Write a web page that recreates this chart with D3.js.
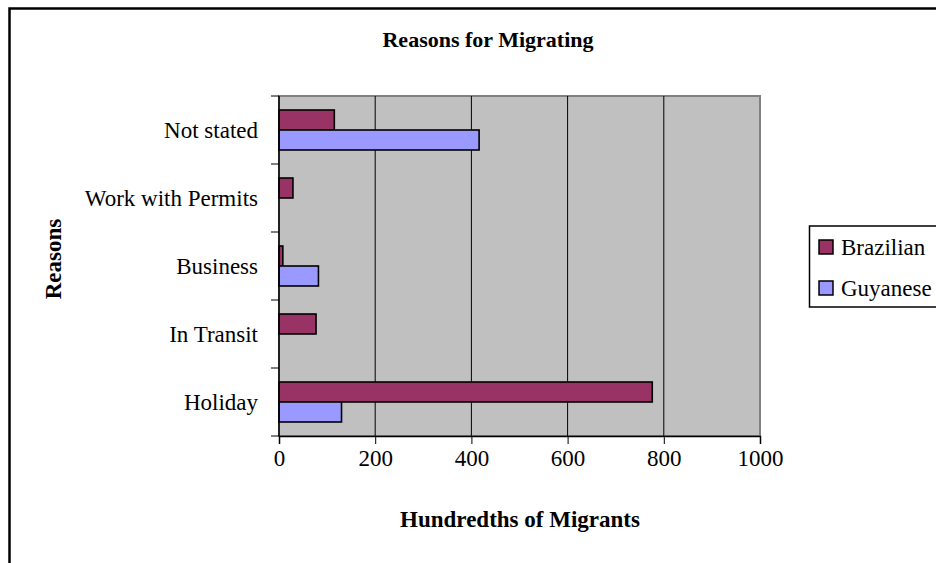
<!DOCTYPE html>
<html>
<head>
<meta charset="utf-8">
<script src="https://cdn.jsdelivr.net/npm/d3@7"></script>
<style>
  body { margin: 0; background: #fff; }
  text { font-family: "Times New Roman", "Liberation Serif", serif; }
</style>
</head>
<body>
<svg id="chart" width="936" height="563"></svg>
<script>
// categories, top to bottom as drawn
const reasons = ['Not stated', 'Work with Permits', 'Business', 'In Transit', 'Holiday']
const seriesNames = ['Brazilian', 'Guyanese']
const brazilian = [115, 29, 8, 77, 776]
const guyanese = [416, 0, 82, 0, 130]
const xTicks = [0, 200, 400, 600, 800, 1000]

const colors = {Brazilian: '#993366', Guyanese: '#9999ff'}

const svg = d3.select('#chart')

// outer frame (runs off the right and bottom edges)
svg.append('path')
    .attr('d', 'M9.5,960 L9.5,8.5 L960,8.5')
    .attr('fill', 'none')
    .attr('stroke', '#000')
    .attr('stroke-width', 2.5)

const plot = {left: 279, right: 760, top: 96, bottom: 436}

const x = d3.scaleLinear().domain([0, 1000]).range([plot.left, plot.right])
const y = d3.scaleBand().domain(reasons).range([plot.top, plot.bottom])
const ySub = d3.scaleBand().domain(seriesNames).range([0, y.bandwidth()])
    .paddingInner(0).paddingOuter(0.7)

// plot background
svg.append('rect')
    .attr('x', plot.left).attr('y', plot.top)
    .attr('width', plot.right - plot.left).attr('height', plot.bottom - plot.top)
    .attr('fill', '#c0c0c0')
    .attr('stroke', '#808080')
    .attr('stroke-width', 2)

// gridlines
svg.append('g')
  .selectAll('line')
  .data(xTicks.slice(1, -1))
  .enter().append('line')
    .attr('x1', d => x(d)).attr('x2', d => x(d))
    .attr('y1', plot.top).attr('y2', plot.bottom)
    .attr('stroke', '#000')
    .attr('stroke-width', 1)

// bars
const rows = reasons.map((r, i) => ({reason: r, Brazilian: brazilian[i], Guyanese: guyanese[i]}))
const barData = []
rows.forEach(row => {
    seriesNames.forEach(s => {
        if (row[s] > 0) barData.push({reason: row.reason, series: s, value: row[s]})
    })
})

svg.append('g')
  .selectAll('rect')
  .data(barData)
  .enter().append('rect')
    .attr('x', x(0))
    .attr('y', d => y(d.reason) + ySub(d.series))
    .attr('width', d => x(d.value) - x(0))
    .attr('height', ySub.bandwidth())
    .attr('fill', d => colors[d.series])
    .attr('stroke', '#000')
    .attr('stroke-width', 1.6)

// axes
const xAxis = svg.append('g')
    .attr('transform', `translate(0,${plot.bottom})`)
    .call(d3.axisBottom(x).tickValues(xTicks).tickSize(8).tickPadding(6).tickFormat(d3.format('d')))
xAxis.select('.domain').attr('stroke', '#000').attr('stroke-width', 1.5)
xAxis.selectAll('.tick line').attr('stroke', '#000')
xAxis.selectAll('.tick text')
    .attr('font-size', 23)
    .attr('fill', '#000')
    .attr('font-family', '"Times New Roman", "Liberation Serif", serif')

// y axis ticks at band boundaries
const yBounds = reasons.map(r => y(r)).concat([plot.bottom])
svg.append('line')
    .attr('x1', plot.left).attr('x2', plot.left)
    .attr('y1', plot.top).attr('y2', plot.bottom)
    .attr('stroke', '#000').attr('stroke-width', 1.5)
svg.append('g')
  .selectAll('line')
  .data(yBounds)
  .enter().append('line')
    .attr('x1', plot.left - 8).attr('x2', plot.left)
    .attr('y1', d => d).attr('y2', d => d)
    .attr('stroke', '#000')

svg.append('g')
  .selectAll('text')
  .data(reasons)
  .enter().append('text')
    .attr('x', 258)
    .attr('y', d => y(d) + y.bandwidth() / 2)
    .attr('dy', '0.35em')
    .attr('text-anchor', 'end')
    .attr('font-size', 23)
    .text(d => d)

// titles
svg.append('text')
    .attr('x', 488).attr('y', 47)
    .attr('text-anchor', 'middle')
    .attr('font-size', 22).attr('font-weight', 'bold')
    .text('Reasons for Migrating')

svg.append('text')
    .attr('x', 520).attr('y', 527)
    .attr('text-anchor', 'middle')
    .attr('font-size', 23).attr('font-weight', 'bold')
    .text('Hundredths of Migrants')

svg.append('text')
    .attr('transform', 'translate(61,259) rotate(-90)')
    .attr('text-anchor', 'middle')
    .attr('font-size', 23).attr('font-weight', 'bold')
    .text('Reasons')

// legend
const legend = svg.append('g')
legend.append('rect')
    .attr('x', 809.5).attr('y', 226)
    .attr('width', 200).attr('height', 81)
    .attr('fill', '#fff')
    .attr('stroke', '#000')
    .attr('stroke-width', 1.5)

const legendItem = legend.selectAll('g')
  .data(seriesNames)
  .enter().append('g')
    .attr('transform', (d, i) => `translate(819,${247 + i * 41})`)
legendItem.append('rect')
    .attr('x', 0).attr('y', -7)
    .attr('width', 14).attr('height', 14)
    .attr('fill', d => colors[d])
    .attr('stroke', '#000')
    .attr('stroke-width', 1.5)
legendItem.append('text')
    .attr('x', 22).attr('y', 0)
    .attr('dy', '0.35em')
    .attr('font-size', 23)
    .text(d => d)
</script>
</body>
</html>
